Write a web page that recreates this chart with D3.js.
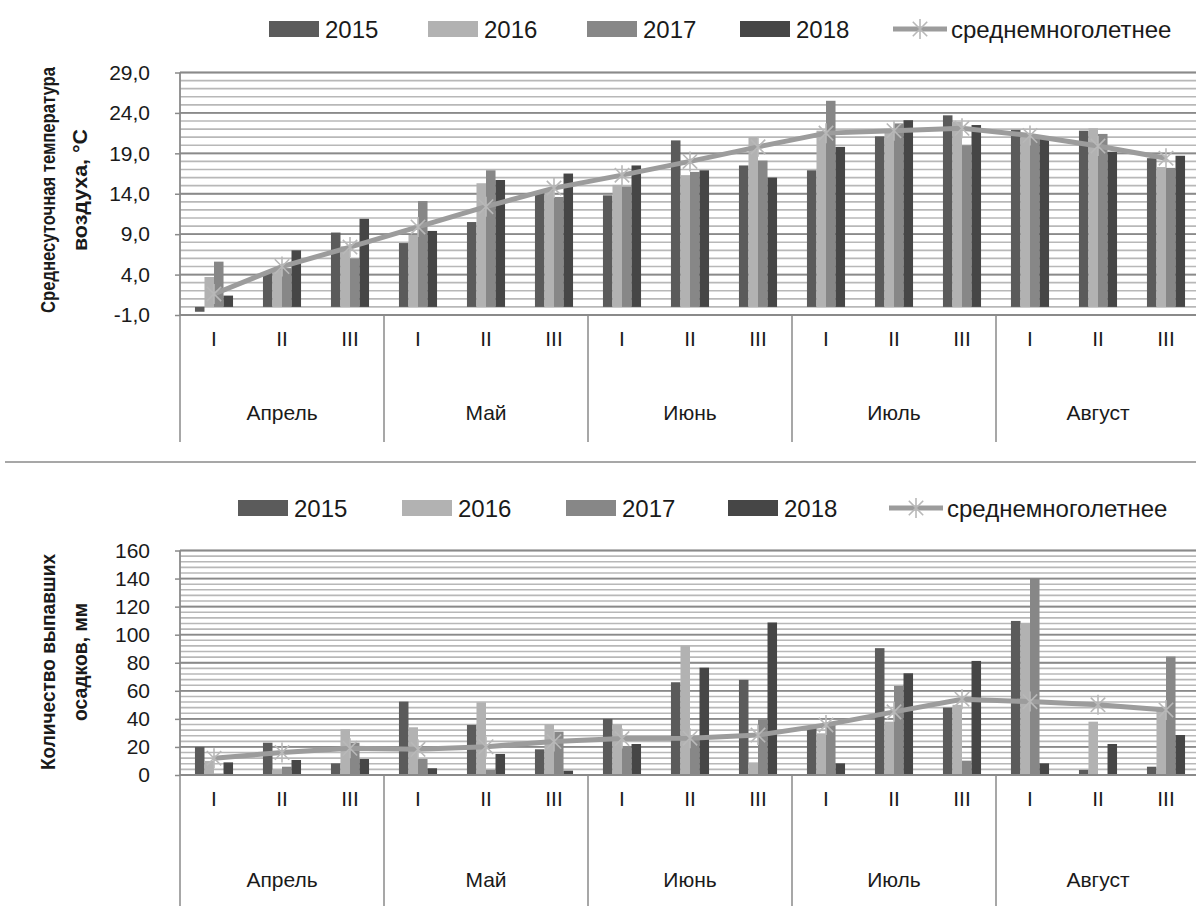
<!DOCTYPE html>
<html>
<head>
<meta charset="utf-8">
<script src="https://cdn.jsdelivr.net/npm/d3@7"></script>
<style>
  body { margin: 0; background: #fff; }
  text { font-family: "Liberation Sans", Arial, sans-serif; fill: #1a1a1a; }
</style>
</head>
<body>
<svg id="chart" width="1196" height="906"></svg>
<script>
var months = ["Апрель", "Май", "Июнь", "Июль", "Август"];
var decades = ["I", "II", "III"];
var years = ["2015", "2016", "2017", "2018"];
var avgName = "среднемноголетнее";

// temperature, °C, per decade (Apr I ... Aug III)
var temp2015 = [-0.6, 4.2, 9.2, 7.9, 10.5, 14.3, 13.8, 20.6, 17.5, 16.9, 21.1, 23.7, 21.9, 21.8, 18.4];
var temp2016 = [3.7, 4.7, 7.5, 8.9, 15.3, 14.6, 15.1, 16.3, 21.0, 21.8, 21.7, 22.9, 21.4, 22.1, 17.3];
var temp2017 = [5.6, 4.8, 6.0, 13.1, 16.9, 13.6, 14.9, 16.7, 18.1, 25.5, 22.7, 20.0, 21.2, 21.4, 17.2];
var temp2018 = [1.4, 7.0, 10.9, 9.4, 15.7, 16.5, 17.5, 16.9, 16.0, 19.8, 23.1, 22.5, 21.1, 19.2, 18.7];
var tempAvg  = [1.6, 5.0, 7.4, 9.9, 12.4, 14.7, 16.3, 18.0, 19.8, 21.5, 21.8, 22.1, 21.2, 19.9, 18.4];
var tempTicks = [-1, 4, 9, 14, 19, 24, 29];

// precipitation, mm
var rain2015 = [20, 23, 8.3, 52.3, 35.7, 18.3, 40, 66.1, 67.8, 34, 90.4, 48, 109.8, 3.6, 5.9];
var rain2016 = [10, 4, 32.6, 34, 51.8, 36.1, 36.1, 92, 9, 29.7, 38, 50, 108.2, 38, 46];
var rain2017 = [1, 5.9, 23, 11.4, 3.6, 30.9, 20.7, 25, 39.7, 37.3, 63.5, 10.2, 140, 0, 84.4];
var rain2018 = [9, 10.7, 11.4, 4.8, 15, 3.1, 22.1, 76.5, 108.7, 8.3, 72.5, 81.3, 8.3, 22.1, 28.5];
var rainAvg  = [12, 16, 19, 18.3, 20.2, 23.8, 26, 26.2, 28.5, 35.7, 45, 54, 52.3, 50, 46.4];
var rainTicks = [0, 20, 40, 60, 80, 100, 120, 140, 160];

var colors = ["#5b5b5b", "#b2b2b2", "#878787", "#464646"];
var lineColor = "#9c9c9c";
var starColor = "#b8b8b8";

var svg = d3.select("#chart");
svg.append("rect").attr("width", 1196).attr("height", 906).attr("fill", "#fff");

var keys = [];
months.forEach(function (m) { decades.forEach(function (d) { keys.push(m + "|" + d); }); });

var left = 180, right = 1200;
var x0 = d3.scaleBand().domain(keys).range([left, right]).paddingInner(0.44).paddingOuter(0.22);
var x1 = d3.scaleBand().domain(years).range([0, x0.bandwidth()]);
var xm = d3.scaleBand().domain(months).range([left, right]);

var ru = d3.formatLocale({decimal: ",", thousands: " ", grouping: [3], currency: ["", ""], minus: "-"});

function star(g, cx, cy, r) {
    var d = r * 0.72;
    g.append("path")
        .attr("d", "M" + cx + "," + (cy - r) + "V" + (cy + r) +
                   "M" + (cx - d) + "," + (cy - d) + "L" + (cx + d) + "," + (cy + d) +
                   "M" + (cx - d) + "," + (cy + d) + "L" + (cx + d) + "," + (cy - d))
        .attr("stroke", starColor).attr("stroke-width", 1.6).attr("fill", "none");
}

function legend(g, y, rectX, lineX) {
    years.forEach(function (yr, i) {
        g.append("rect").attr("x", rectX[i]).attr("y", y - 8).attr("width", 50).attr("height", 16)
            .attr("fill", colors[i]);
        g.append("text").attr("x", rectX[i] + 56).attr("y", y).attr("dy", "0.36em")
            .attr("font-size", 24).text(yr);
    });
    g.append("line").attr("x1", lineX).attr("x2", lineX + 54).attr("y1", y).attr("y2", y)
        .attr("stroke", lineColor).attr("stroke-width", 5);
    star(g, lineX + 27, y, 10);
    g.append("text").attr("x", lineX + 58).attr("y", y).attr("dy", "0.36em")
        .attr("font-size", 24).text(avgName);
}

function panel(cfg) {
    var g = svg.append("g");
    var y = d3.scaleLinear().domain(cfg.domain).range([cfg.bottom, cfg.top]);

    // minor + major gridlines
    var minor = d3.range(cfg.domain[0], cfg.domain[1] + 0.001, cfg.minor);
    g.selectAll(".minor").data(minor).enter().append("line")
        .attr("x1", left).attr("x2", 1196)
        .attr("y1", function (d) { return y(d); }).attr("y2", function (d) { return y(d); })
        .attr("stroke", "#b8b8b8").attr("stroke-width", 1.6);
    g.selectAll(".major").data(cfg.ticks).enter().append("line")
        .attr("x1", left).attr("x2", 1196)
        .attr("y1", function (d) { return y(d); }).attr("y2", function (d) { return y(d); })
        .attr("stroke", "#8a8a8a").attr("stroke-width", 1.8);

    // y axis
    var yAxis = d3.axisLeft(y).tickValues(cfg.ticks).tickSize(5).tickSizeOuter(0).tickPadding(25)
        .tickFormat(cfg.format);
    var ya = g.append("g").attr("transform", "translate(" + left + ",0)").call(yAxis);
    ya.select(".domain").remove();
    ya.selectAll("line").attr("stroke", "#8a8a8a").attr("stroke-width", 1.5);
    ya.selectAll("text").attr("font-size", 21).attr("fill", "#1a1a1a")
        .style("font-family", "'Liberation Sans', Arial, sans-serif");

    // bars
    var series = cfg.series;
    keys.forEach(function (k, i) {
        years.forEach(function (yr, j) {
            var v = series[j][i];
            var base = cfg.base;
            g.append("rect")
                .attr("x", x0(k) + x1(yr))
                .attr("width", x1.bandwidth())
                .attr("y", y(Math.max(v, base)))
                .attr("height", Math.abs(y(v) - y(base)))
                .attr("fill", colors[j]);
        });
    });

    // category axis
    var axisY = cfg.bottom;
    g.append("line").attr("x1", left).attr("x2", 1196).attr("y1", axisY).attr("y2", axisY)
        .attr("stroke", "#8a8a8a").attr("stroke-width", 1.8);
    g.append("line").attr("x1", left).attr("x2", left).attr("y1", cfg.top).attr("y2", axisY)
        .attr("stroke", "#8a8a8a").attr("stroke-width", 1.8);
    months.concat(["end"]).forEach(function (m, i) {
        var xx = i < months.length ? xm(m) : right;
        g.append("line").attr("x1", xx).attr("x2", xx).attr("y1", axisY).attr("y2", cfg.catEnd)
            .attr("stroke", "#8a8a8a").attr("stroke-width", 1.5);
    });
    var decAxis = d3.axisBottom(x0).tickSize(0).tickPadding(cfg.decPad)
        .tickFormat(function (d) { return d.split("|")[1]; });
    var da = g.append("g").attr("transform", "translate(0," + axisY + ")").call(decAxis);
    da.select(".domain").remove();
    da.selectAll("text").attr("font-size", 21).attr("fill", "#1a1a1a")
        .style("font-family", "'Liberation Sans', Arial, sans-serif");
    var monAxis = d3.axisBottom(xm).tickSize(0).tickPadding(cfg.monPad);
    var ma = g.append("g").attr("transform", "translate(0," + axisY + ")").call(monAxis);
    ma.select(".domain").remove();
    ma.selectAll("text").attr("font-size", 21).attr("fill", "#1a1a1a")
        .style("font-family", "'Liberation Sans', Arial, sans-serif");

    // average line with star markers
    var line = d3.line()
        .x(function (d, i) { return x0(keys[i]) + x0.bandwidth() / 2; })
        .y(function (d) { return y(d); });
    g.append("path").datum(cfg.avg).attr("d", line)
        .attr("fill", "none").attr("stroke", lineColor).attr("stroke-width", 5);
    cfg.avg.forEach(function (v, i) {
        star(g, x0(keys[i]) + x0.bandwidth() / 2, y(v), 10);
    });

    // y title
    cfg.title.forEach(function (t, i) {
        var tx = g.append("text")
            .attr("transform", "translate(" + (55 + i * 32) + "," + cfg.titleY + ") rotate(-90)")
            .attr("text-anchor", "middle").attr("font-size", 21).attr("font-weight", "bold")
            .text(t);
        if (cfg.titleLen[i]) tx.attr("textLength", cfg.titleLen[i]).attr("lengthAdjust", "spacingAndGlyphs");
    });

    legend(g, cfg.legendY, cfg.legendRects, cfg.legendLine);
}

panel({
    domain: [-1, 29], top: 72.5, bottom: 315, minor: 1, ticks: tempTicks, base: 0,
    format: ru.format(".1f"),
    series: [temp2015, temp2016, temp2017, temp2018], avg: tempAvg,
    catEnd: 442, decPad: 16, monPad: 90,
    title: ["Среднесуточная температура", "воздуха, °С"], titleLen: [246, 122], titleY: 190,
    legendY: 29, legendRects: [269, 428, 587, 740], legendLine: 893
});

panel({
    domain: [0, 160], top: 550.5, bottom: 775, minor: 4, ticks: rainTicks, base: 0,
    format: ru.format("d"),
    series: [rain2015, rain2016, rain2017, rain2018], avg: rainAvg,
    catEnd: 906, decPad: 16, monPad: 97,
    title: ["Количество выпавших", "осадков, мм"], titleLen: [216, 118], titleY: 662,
    legendY: 508, legendRects: [238, 402, 566, 728], legendLine: 889
});

svg.append("line").attr("x1", 5).attr("x2", 1196).attr("y1", 462).attr("y2", 462)
    .attr("stroke", "#8a8a8a").attr("stroke-width", 1.5);
</script>
</body>
</html>
